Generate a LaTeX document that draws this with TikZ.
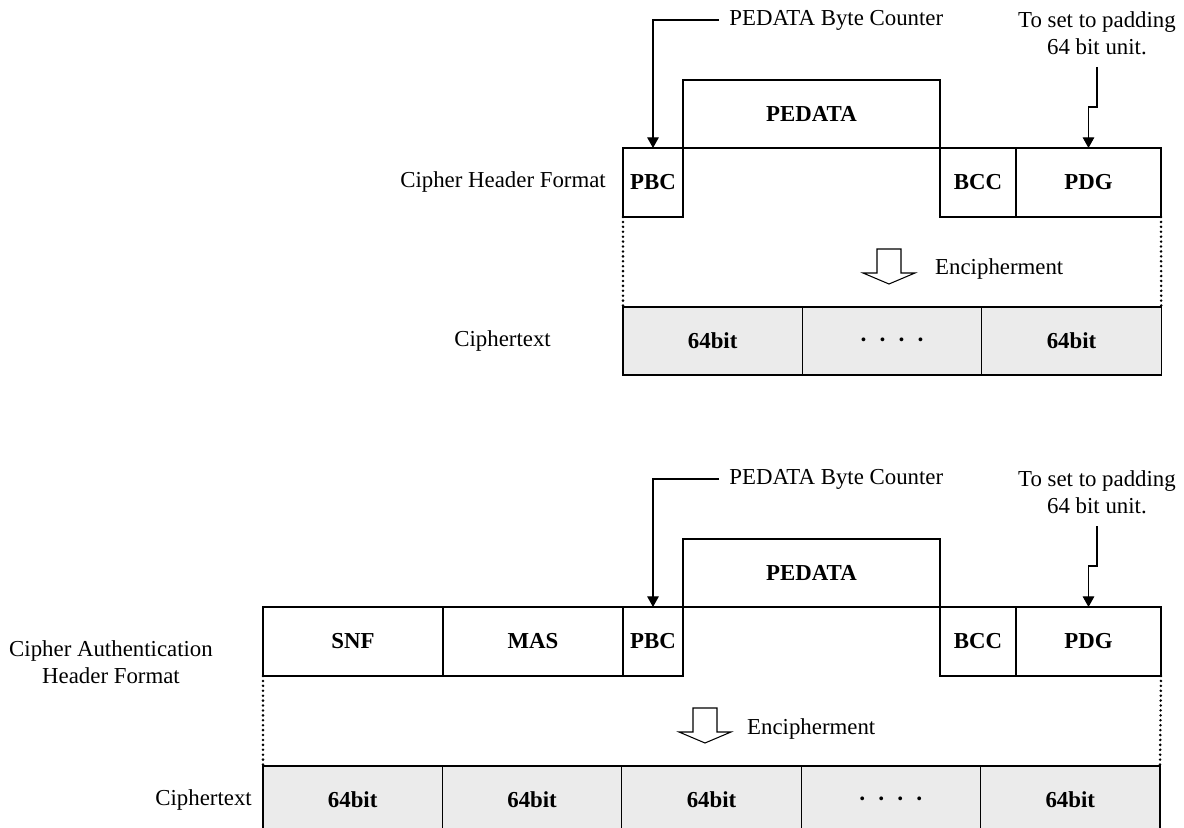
\documentclass[tikz,border=0pt]{standalone}
\usepackage{fontspec}
\setmainfont{Liberation Serif}
\usetikzlibrary{arrows.meta}
\def\u{0.02cm}
\begin{document}
\begin{tikzpicture}[
  x=\u, y=-\u,
  field/.style={
    draw, line width=0.6pt, inner sep=0pt, outer sep=0pt,
    minimum height=69*\u, font=\fontsize{13}{15.5}\selectfont\bfseries
  },
  block/.style={field, fill=Cblk, minimum width=179.4*\u, minimum height=68*\u},
  lbl/.style={font=\fontsize{13}{15.5}\selectfont},
  lead/.style={line width=0.6pt, -{Triangle[width=6.5pt,length=6pt]}},
  dots/.style={line width=1.6pt, line cap=round, dash pattern=on 0pt off 2.8pt},
  hollow/.style={draw, line width=0.6pt, fill=white}
]
\colorlet{Cblk}{black!8}
\def\dot{{\fontsize{8}{8}\selectfont •}}
\def\dd{\dot\hspace{8pt}\dot\hspace{8pt}\dot\hspace{8pt}\dot}
\useasboundingbox (0,0) rectangle (1184,828);
%% TOP: CIPHER HEADER FORMAT
\node[field, minimum width=60*\u]  (tpbc) at (653,182.5)  {PBC};
\node[field, minimum width=257*\u, minimum height=68*\u] (tdat) at (811.5,114) {PEDATA};
\node[field, minimum width=76*\u]  (tbcc) at (978,182.5)  {BCC};
\node[field, minimum width=145*\u] (tpdg) at (1088.5,182.5) {PDG};
\node[lbl, anchor=east] (thdr) at (612,182.5) {Cipher Header Format};
%% TOP LEADERS
\node[lbl, anchor=west, inner xsep=10*\u] (tcnt) at (719,20) {PEDATA Byte Counter};
\draw[lead] (tcnt.west) -| (tpbc.north);
\node[lbl, align=center] (tpad) at (1097,33) {To set to padding\\64 bit unit.};
\coordinate (tpadend) at (1097,67);
\draw[lead] (tpadend) -- ++(0,40) -| (tpdg.north);
%% TOP ENCIPHERMENT
\draw[hollow] (877,249) -- (901,249) -- (901,273) -- (915,273) -- (889,284)
  -- (863,273) -- (877,273) -- cycle;
\node[lbl, anchor=base west] (tenc) at (929,275) {Encipherment};
%% TOP CIPHERTEXT
\node[block] (tc1) at (712.7,341) {64bit};
\node[block] (tc2) at (892.1,341) {\dd};
\node[block] (tc3) at (1071.5,341) {64bit};
\node[lbl, anchor=east] (tct) at (557,341) {Ciphertext};
\draw[dots] (tpbc.south west) -- (tc1.north west);
\draw[dots] (tpdg.south east) -- (tc3.north east);
\begin{scope}[shift={(0,459)}]
%% BOTTOM: CIPHER AUTHENTICATION HEADER FORMAT
\node[field, minimum width=180*\u] (bsnf) at (353,182.5)  {SNF};
\node[field, minimum width=180*\u] (bmas) at (533,182.5)  {MAS};
\node[field, minimum width=60*\u]  (bpbc) at (653,182.5)  {PBC};
\node[field, minimum width=257*\u, minimum height=68*\u] (bdat) at (811.5,114) {PEDATA};
\node[field, minimum width=76*\u]  (bbcc) at (978,182.5)  {BCC};
\node[field, minimum width=145*\u] (bpdg) at (1088.5,182.5) {PDG};
\node[lbl, align=center] (bhdr) at (111,203) {Cipher Authentication\\Header Format};
%% BOTTOM LEADERS
\node[lbl, anchor=west, inner xsep=10*\u] (bcnt) at (719,20) {PEDATA Byte Counter};
\draw[lead] (bcnt.west) -| (bpbc.north);
\node[lbl, align=center] (bpad) at (1097,33) {To set to padding\\64 bit unit.};
\coordinate (bpadend) at (1097,67);
\draw[lead] (bpadend) -- ++(0,40) -| (bpdg.north);
%% BOTTOM ENCIPHERMENT
\draw[hollow] (693,249) -- (717,249) -- (717,273) -- (731,273) -- (705,284)
  -- (679,273) -- (693,273) -- cycle;
\node[lbl, anchor=base west] (benc) at (741,275) {Encipherment};
%% BOTTOM CIPHERTEXT
\node[block] (bc1) at (352.7,341)  {64bit};
\node[block] (bc2) at (532.1,341)  {64bit};
\node[block] (bc3) at (711.5,341)  {64bit};
\node[block] (bc4) at (890.9,341)  {\dd};
\node[block] (bc5) at (1070.3,341) {64bit};
\node[lbl, anchor=east] (bct) at (258,341) {Ciphertext};
\draw[dots] (bsnf.south west) -- (bc1.north west);
\draw[dots] (bpdg.south east) -- (bc5.north east);
\end{scope}
\end{tikzpicture}
\end{document}
